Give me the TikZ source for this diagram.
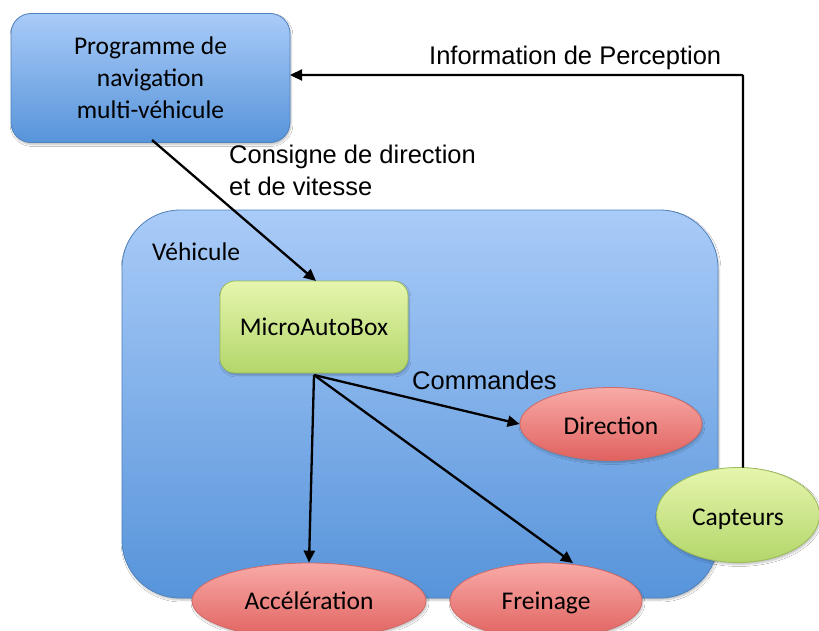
\documentclass[tikz,border=0pt]{standalone}
\usepackage{fontspec}
\setmainfont{Carlito}
\newfontfamily\arialfont{Liberation Sans}
\usetikzlibrary{arrows.meta,shapes.geometric,shadows.blur}
\definecolor{bluetop}{HTML}{A9CBF8}
\definecolor{bluebot}{HTML}{5794DA}
\definecolor{blueedge}{HTML}{4F81BD}
\definecolor{greentop}{HTML}{E6F6AE}
\definecolor{greenbot}{HTML}{B3D66A}
\definecolor{greenedge}{HTML}{9BBB59}
\definecolor{redtop}{HTML}{F8AAA8}
\definecolor{redbot}{HTML}{E0625E}
\definecolor{rededge}{HTML}{D06A66}
\begin{document}
\begin{tikzpicture}[x=1pt,y=-1pt,
  shad/.style={blur shadow={shadow xshift=1pt, shadow yshift=-2pt, shadow blur steps=5, shadow opacity=25}},
  bluefill/.style={draw=blueedge, line width=0.8pt, top color=bluetop, bottom color=bluebot, shad},
  bluebox/.style={bluefill, rectangle, inner sep=0pt},
  greenbox/.style={draw=greenedge, line width=0.8pt, top color=greentop, bottom color=greenbot,
    rectangle, rounded corners=15pt, inner sep=0pt, font=\fontsize{25.5}{31}\selectfont, shad},
  greenell/.style={draw=greenedge, line width=0.8pt, top color=greentop, bottom color=greenbot,
    ellipse, inner sep=0pt, font=\fontsize{25.5}{31}\selectfont, shad},
  redell/.style={draw=rededge, line width=0.8pt, top color=redtop, bottom color=redbot,
    ellipse, inner sep=0pt, font=\fontsize{25.5}{31}\selectfont, shad},
  arr/.style={draw=black, line width=2.3pt, -{Triangle[length=12pt,width=11pt]}},
  lab/.style={font=\arialfont\fontsize{25.5}{32}\selectfont, inner sep=0pt, align=left}
]
\useasboundingbox[fill=white] (0,0) rectangle (819,630);

% vehicle box (explicit rounded rectangle, radius 58)
\path[bluefill] (122,268) .. controls (122,236) and (148,210) .. (180,210)
  -- (660,210) .. controls (692,210) and (718,236) .. (718,268)
  -- (718,540) .. controls (718,572) and (692,598) .. (660,598)
  -- (180,598) .. controls (148,598) and (122,572) .. (122,540) -- cycle;
\node[font=\fontsize{25.5}{31}\selectfont, anchor=west, inner sep=0pt] (vehlab) at (152,252) {Véhicule};

% top box
\node[bluebox, rounded corners=20pt, minimum width=279pt, minimum height=129pt,
  font=\fontsize{25.5}{32}\selectfont, align=center] (prog) at (150.5,78)
  {Programme de\\navigation\\multi-véhicule};

% MicroAutoBox
\node[greenbox, minimum width=188pt, minimum height=92pt] (mab) at (314,327) {MicroAutoBox};

% ellipses
\node[redell, minimum width=182pt, minimum height=73pt, text height=21pt, text depth=0pt] (dir) at (611,424) {Direction};
\node[redell, minimum width=234pt, minimum height=76pt] (acc) at (309,601) {Accélération};
\node[redell, minimum width=192pt, minimum height=76pt, text height=21pt, text depth=5pt] (frein) at (546,601) {Freinage};
\node[greenell, minimum width=163pt, minimum height=95pt, text height=25pt, text depth=5pt] (capt) at (738,515) {Capteurs};

% coordinates
\coordinate (progout) at (152,140);
\coordinate (mabin) at (316,281);
\coordinate (mabout) at (314,375);
\coordinate (captup) at (743,467.5);
\coordinate (corner) at (743,75);
\coordinate (progin) at (290,75);

% connectors
\draw[arr] (progout) -- (mabin);
\draw[arr, rounded corners=1pt] (captup) -- (corner) -- (progin);
\draw[arr] (mabout) -- (dir.west);
\draw[arr] (mabout) -- (acc.north);
\draw[arr] (mabout) -- (573,563);

% labels
\node[lab, anchor=north west] (consigne) at (229,145) {Consigne de direction\\et de vitesse};
\node[lab, anchor=south west] (info) at (429,70) {Information de Perception};
\node[lab, anchor=south west] (cmd) at (412,390) {Commandes};
\end{tikzpicture}
\end{document}
